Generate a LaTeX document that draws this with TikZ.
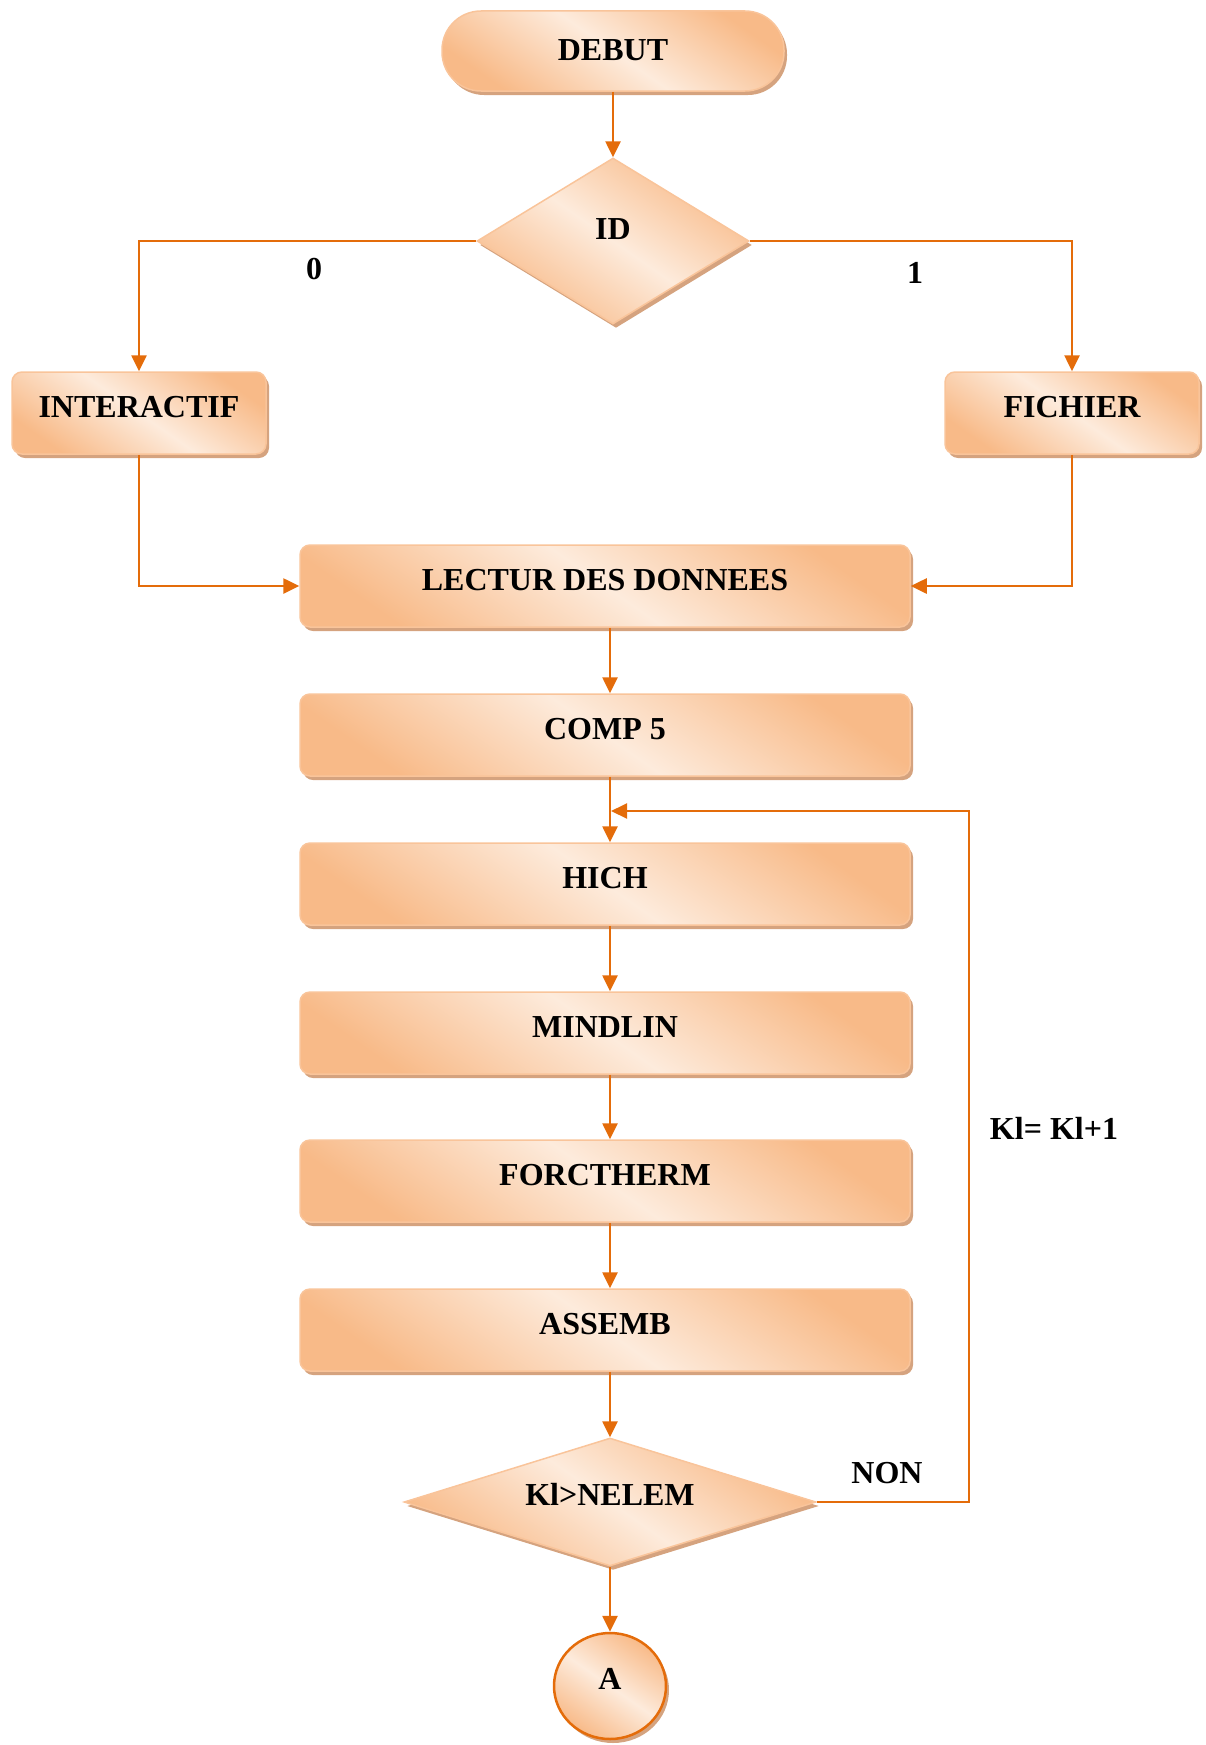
\documentclass[tikz,border=0pt]{standalone}
\usepackage{fontspec}
\setmainfont{Liberation Serif}
\usetikzlibrary{shapes.geometric,shadows,arrows.meta}
\definecolor{boxdark}{HTML}{F8BA88}
\definecolor{boxlight}{HTML}{FDEBDC}
\definecolor{boxedge}{HTML}{F9C49A}
\definecolor{shadecol}{HTML}{D5A37F}
\definecolor{wirecol}{HTML}{E46C0A}

\begin{document}
\begin{tikzpicture}[x=1pt,y=-1pt,
  every node/.style={font=\fontsize{32}{38}\selectfont\bfseries},
  fillgrad/.style={top color=boxdark, bottom color=boxdark, middle color=boxlight, shading angle=-35},
  shad/.style={drop shadow={shadow xshift=3pt,shadow yshift=-4pt,fill=shadecol,opacity=1}},
  stepbox/.style={fillgrad, shad, draw=boxedge, line width=1.5pt, rounded corners=10pt,
    minimum width=610pt, minimum height=82pt, inner sep=0pt, text height=45pt, text depth=37pt},
  sidebox/.style={stepbox, minimum width=254pt},
  terminal/.style={fillgrad, shad, draw=boxedge, line width=1.5pt, rounded corners=39pt,
    minimum width=342pt, minimum height=80pt, inner sep=0pt, text height=49pt, text depth=31pt},
  decision/.style={diamond, fillgrad, shad, draw=boxedge, line width=1.5pt, inner sep=0pt},
  connector/.style={ellipse, fillgrad, shad, draw=wirecol, line width=2.5pt, inner sep=0pt,
    minimum width=112pt, minimum height=106pt, text height=12pt, text depth=6pt},
  conn/.style={draw=wirecol, line width=2.6pt, -{Triangle[length=16pt,width=15pt]}},
  loopline/.style={conn, line width=2pt}
]
\useasboundingbox (0,0) rectangle (1205,1745);
\coordinate (axis) at (610,0);

% start and first test
\node[terminal] (debut) at (613,51) {DEBUT};
\node[decision, shape aspect=1.64, minimum width=272pt, minimum height=166pt, text height=10pt, text depth=14pt] (id) at (613,241) {ID};

% input mode
\node[sidebox] (inter) at (139,413) {INTERACTIF};
\node[sidebox] (fich) at (1072,413) {FICHIER};

% main chain
\node[stepbox] (lect) at (605,586) {LECTUR DES DONNEES};
\node[stepbox] (comp) at (605,735) {COMP 5};
\node[stepbox] (hich) at (605,884) {HICH};
\node[stepbox] (mind) at (605,1033) {MINDLIN};
\node[stepbox] (forc) at (605,1181) {FORCTHERM};
\node[stepbox] (assb) at (605,1330) {ASSEMB};
\node[decision, shape aspect=3.2, minimum width=412pt, minimum height=128pt, text height=12pt, text depth=6pt] (test) at (610,1502) {Kl>NELEM};
\node[connector] (A) at (610,1686) {A};

% labels
\node (l0) at (314,269) {0};
\node (l1) at (915,273) {1};
\node (non) at (887,1473) {NON};
\node (incr) at (1054,1128) {Kl= Kl+1};

% connectors
\draw[conn] (debut.south) -- (id.north);
\draw[conn] (id.west) -| (inter.north);
\draw[conn] (id.east) -| (fich.north);
\draw[conn] (inter.south) |- (lect.west);
\draw[conn] (fich.south) |- (lect.east);
\draw[conn] (lect.south -| axis) -- (comp.north -| axis);
\draw[conn] (comp.south -| axis) -- (hich.north -| axis);
\draw[conn] (hich.south -| axis) -- (mind.north -| axis);
\draw[conn] (mind.south -| axis) -- (forc.north -| axis);
\draw[conn] (forc.south -| axis) -- (assb.north -| axis);
\draw[conn] (assb.south -| axis) -- (test.north);
\draw[conn] (test.south) -- (A.north);

% loop back
\coordinate (back) at (969,811);
\coordinate (entry) at (611,811);
\draw[loopline] (test.east) -| (back) -- (entry);
\end{tikzpicture}
\end{document}
